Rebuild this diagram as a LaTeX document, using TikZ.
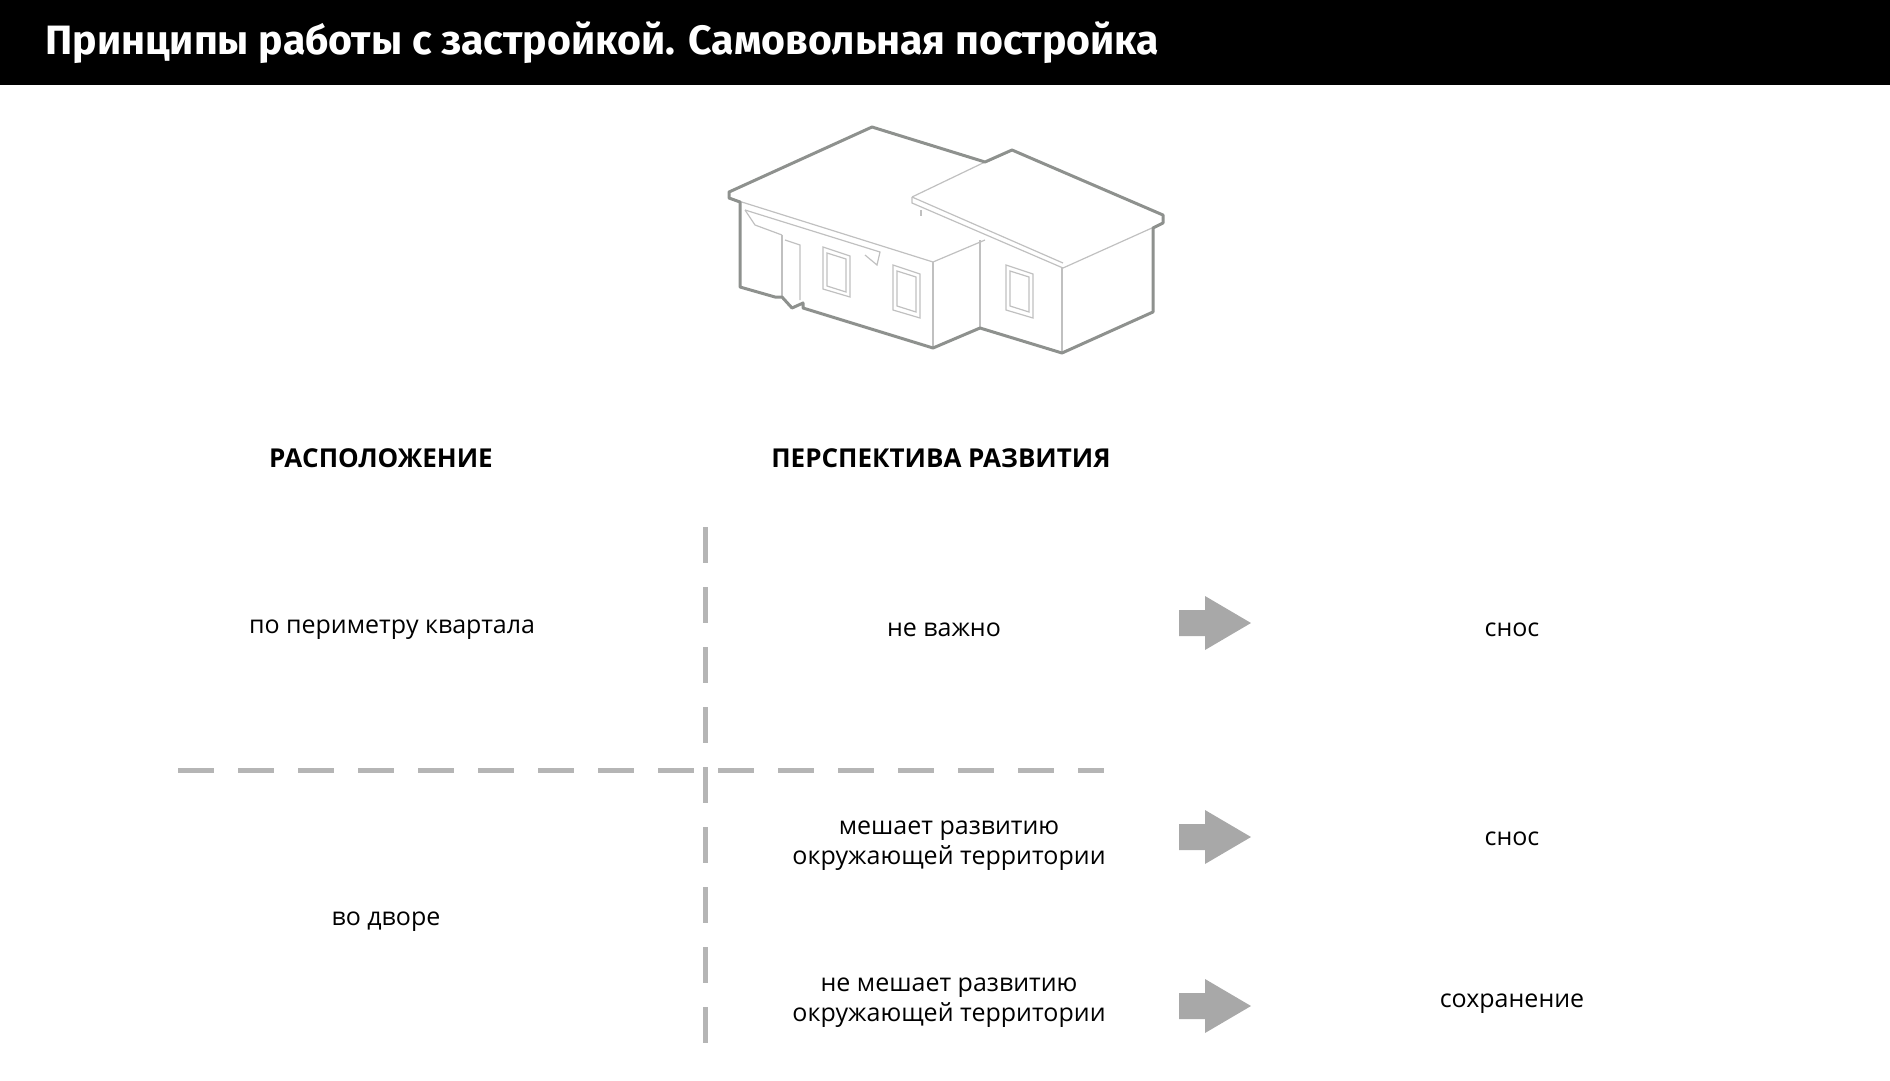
\documentclass[tikz,border=0pt]{standalone}
\usepackage{fontspec}
\setmainfont{Open Sans}
\newfontfamily\titlefont{Fira Sans}
\usetikzlibrary{positioning}
\definecolor{sepgray}{HTML}{B5B5B5}
\definecolor{arrgray}{HTML}{A8A8A8}
\definecolor{housegray}{HTML}{8E918E}
\definecolor{thingray}{HTML}{C0C0C0}
\tikzset{
  cell/.style={font=\fontsize{25}{30}\selectfont, align=center},
  head/.style={font=\fontsize{26}{30}\selectfont\bfseries},
  sep/.style={sepgray, line width=5pt, dash pattern=on 36pt off 24pt},
  outline/.style={housegray, line width=3pt, line join=round},
  fine/.style={thingray, line width=1.2pt},
  pic arrow/.pic={\fill[arrgray] (0,-13) -- (26,-13) -- (26,-27) -- (72,0)
      -- (26,27) -- (26,13) -- (0,13) -- cycle;}
}
\begin{document}
\begin{tikzpicture}[x=1pt, y=-1pt]
  \useasboundingbox (0,0) rectangle (1890,1080);
  % title bar
  \fill[black] (0,0) rectangle (1890,85);
  \node[anchor=west, text=white, font=\titlefont\fontsize{41}{44}\selectfont\bfseries]
    (title) at (42,43) {Принципы работы с застройкой. Самовольная постройка};

  % house
  \draw[fine] (729,198) -- (933,262) -- (985,240);
  \draw[fine] (912,197) -- (985,162);
  \draw[fine] (912,197) -- (912,203) -- (1063,268) -- (1163,223);
  \draw[fine] (1063,263) -- (912,197);
  \draw[fine] (1062,268) -- (1062,353);
  \draw[fine] (980,240) -- (980,328);
  \draw[fine] (933,262) -- (933,348);
  \draw[fine] (921,210) -- (921,216);
  \draw[fine] (745,210) -- (880,252) -- (877,265) -- (865,255);
  \draw[fine] (745,210) -- (755,225) -- (782,235);
  \draw[fine] (782,235) -- (782,297);
  \draw[fine] (785,240) -- (800,245) -- (800,300);
  % windows
  \draw[fine] (823,247) -- (850,256) -- (850,297) -- (823,289) -- cycle;
  \draw[fine] (827,253) -- (846,259) -- (846,292) -- (827,286) -- cycle;
  \draw[fine] (893,265) -- (920,274) -- (920,318) -- (893,310) -- cycle;
  \draw[fine] (897,271) -- (916,277) -- (916,312) -- (897,306) -- cycle;
  \draw[fine] (1006,265) -- (1033,274) -- (1033,318) -- (1006,310) -- cycle;
  \draw[fine] (1010,271) -- (1029,277) -- (1029,312) -- (1010,306) -- cycle;
  % outline
  \draw[outline] (729,192) -- (872,127) -- (985,162) -- (1012,150) -- (1163,215)
    -- (1163,223) -- (1153,228) -- (1153,312) -- (1062,353) -- (980,328)
    -- (933,348) -- (803,308) -- (803,303) -- (792,308) -- (782,297)
    -- (775,297) -- (740,287) -- (740,202) -- (729,198) -- cycle;

  % headings
  \node[head] (hloc) at (381,458) {РАСПОЛОЖЕНИЕ};
  \node[head] (hdev) at (941,458) {ПЕРСПЕКТИВА РАЗВИТИЯ};

  % separators
  \draw[sep] (705,527) -- (705,1045);
  \draw[sep] (178,770) -- (1104,770);

  % rows
  \node[cell] (loc1) at (392,630) {по периметру квартала};
  \node[cell] (loc2) at (386,922) {во дворе};
  \node[cell] (dev1) at (944,630) {не важно};
  \node[cell] (dev2) at (949,846) {мешает развитию\\окружающей территории};
  \node[cell] (dev3) at (949,1003) {не мешает развитию\\окружающей территории};
  \node[cell] (res1) at (1512,630) {снос};
  \node[cell] (res2) at (1512,839) {снос};
  \node[cell] (res3) at (1512,1004) {сохранение};
  \foreach \y in {623,837,1006} \pic at (1179,\y) {pic arrow};
\end{tikzpicture}
\end{document}
